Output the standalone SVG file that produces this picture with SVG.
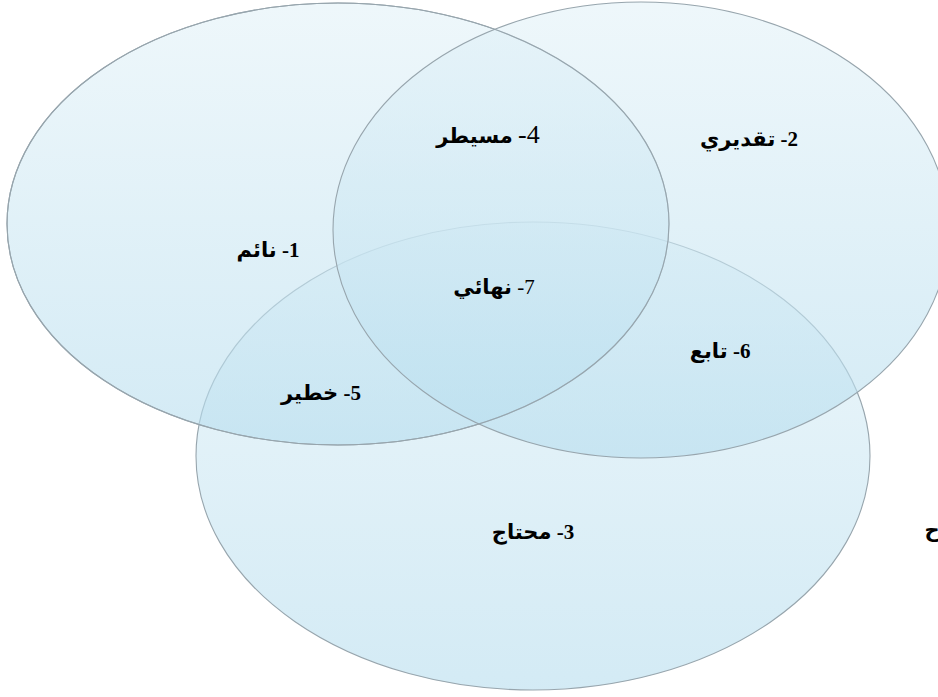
<svg xmlns="http://www.w3.org/2000/svg" width="938" height="697" viewBox="0 0 938 697">
  <defs>
    <linearGradient id="bubbleFill" x1="0" y1="0" x2="0" y2="1">
      <stop offset="0" stop-color="#e3f2f8"/>
      <stop offset="1" stop-color="#b6ddee"/>
    </linearGradient>
    <style>
      .bubble { fill: url(#bubbleFill); fill-opacity: 0.6; stroke: #97a5ad; stroke-width: 1.1; }
      .outline { fill: none; stroke: #97a5ad; stroke-width: 1.1; }
      .label { font-family: "Liberation Serif", "DejaVu Sans", serif; font-size: 21px; font-weight: bold; fill: #000; direction: rtl; unicode-bidi: embed; text-anchor: middle; }
      .num { font-weight: normal; }
      .tall { font-size: 26px; }
    </style>
  </defs>
  <rect width="938" height="697" fill="#ffffff"/>

  <!-- three overlapping sets; the lower set sits underneath -->
  <g id="set-bottom">
    <ellipse class="bubble" cx="533" cy="456" rx="337" ry="234"/>
  </g>
  <g id="set-left">
    <ellipse class="bubble" cx="338" cy="224" rx="331" ry="221"/>
  </g>
  <g id="set-right">
    <ellipse class="bubble" cx="641" cy="230" rx="308" ry="228"/>
  </g>
  <!-- keep the upper rims crisp over the translucent fills -->
  <g id="rims">
    <ellipse class="outline" cx="338" cy="224" rx="331" ry="221"/>
  </g>

  <!-- region labels -->
  <g id="label-1"><text class="label" x="268" y="257">1- نائم</text></g>
  <g id="label-2"><text class="label" x="749" y="146">2- تقديري</text></g>
  <g id="label-3"><text class="label" x="533" y="539">3- محتاج</text></g>
  <g id="label-4"><text class="label" x="488" y="143"><tspan class="num tall">4-</tspan> مسيطر</text></g>
  <g id="label-5"><text class="label" x="321" y="400">5- خطير</text></g>
  <g id="label-6"><text class="label" x="720" y="358">6- تابع</text></g>
  <g id="label-7"><text class="label" x="494" y="294"><tspan class="num">7-</tspan> نهائي</text></g>
  <g id="label-edge"><text class="label" x="932" y="537">ح</text></g>

  <g id="connectors"/>
</svg>
